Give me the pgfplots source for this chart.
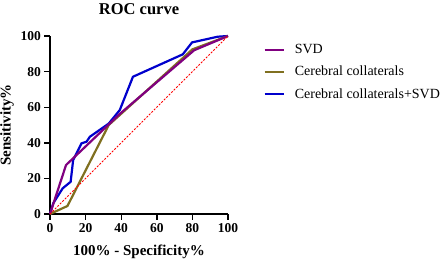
\documentclass[border=0pt]{standalone}
\usepackage{pgfplots}
\pgfplotsset{compat=1.18}
\usepackage{fontspec}
\setmainfont{Liberation Serif}
\definecolor{svdc}{RGB}{128,0,128}
\definecolor{colc}{RGB}{128,112,32}
\definecolor{bothc}{RGB}{0,0,204}
\begin{document}
\begin{tikzpicture}
\path[use as bounding box] (-50pt,-49pt) rectangle (396pt,214pt);
\begin{axis}[
  scale only axis, width=178pt, height=178pt,
  xmin=0, xmax=100, ymin=0, ymax=100,
  axis x line=bottom, axis y line=left,
  axis line style={-, line width=1.4pt},
  xtick={0,20,...,100}, ytick={0,20,...,100},
  tick align=outside, major tick length=5.5pt,
  every tick/.style={black, line width=1.4pt},
  /pgf/number format/assume math mode=true,
  ticklabel style={font=\fontsize{13.5}{14}\bfseries\selectfont},
  xlabel={100\% - Specificity\%}, ylabel={Sensitivity\%},
  label style={font=\fontsize{15}{16}\bfseries\selectfont},
  xlabel style={yshift=-6pt},
  title={ROC curve},
  every axis title/.style={font=\fontsize{16.5}{17}\bfseries\selectfont, at={(0.5,1)}, anchor=base, yshift=22pt},
  clip=false,
  legend style={draw=none, fill=none, at={(1.20,0.798)}, anchor=west,
    inner sep=0pt, outer sep=0pt,
    font=\fontsize{14}{15}\selectfont, row sep=11pt,
    nodes={inner sep=0pt}, column sep=10pt},
  legend cell align=left,
  legend image code/.code={\draw[#1] (0pt,0pt) -- (19pt,0pt);},
]
\addplot[bothc, line width=2.2pt, forget plot] coordinates {
(0,0) (1.8,6) (7.1,14.4) (11.6,18.1) (13,30.3) (17.7,39.7) (20.5,40.6) (22.4,43.4) (33,50.8) (39.2,58.4) (46.6,77.1) (74.6,89.7) (79.8,96.4) (94.2,99.6) (100,100)};
\addplot[colc, line width=2.2pt, forget plot] coordinates {
(0,0) (9.8,4.5) (33,50) (80,92.5) (100,100)};
\addplot[svdc, line width=2.2pt, forget plot] coordinates {
(0,0) (9,27.5) (39.5,56.5) (81,92) (100,100)};
\addplot[red, line width=0.9pt, dash pattern=on 2pt off 1.5pt, forget plot] coordinates {(0,0) (100,100)};
\addlegendimage{svdc, line width=2.2pt}
\addlegendentry{SVD}
\addlegendimage{colc, line width=2.2pt}
\addlegendentry{Cerebral collaterals}
\addlegendimage{bothc, line width=2.2pt}
\addlegendentry{Cerebral collaterals+SVD}
\end{axis}
\end{tikzpicture}
\end{document}
